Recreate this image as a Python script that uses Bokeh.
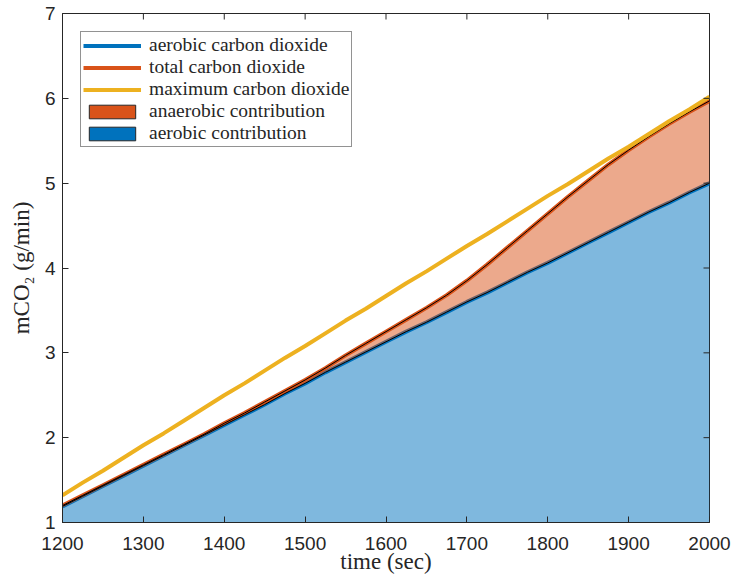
import math
from bokeh.plotting import figure
from bokeh.models import (ColumnDataSource, Legend, LegendItem, FixedTicker, Range1d)
from bokeh.embed import file_html
from bokeh.resources import INLINE

# ---- data ----
time = [1200, 1225, 1250, 1275, 1300, 1325, 1350, 1375, 1400, 1425, 1450,
        1475, 1500, 1525, 1550, 1575, 1600, 1625, 1650, 1675, 1700, 1725,
        1750, 1775, 1800, 1825, 1850, 1875, 1900, 1925, 1950, 1975, 2000]
aerobic = [1.19, 1.31, 1.43, 1.55, 1.67, 1.79, 1.91, 2.03, 2.15, 2.27, 2.39,
           2.52, 2.64, 2.77, 2.89, 3.01, 3.13, 3.25, 3.36, 3.48, 3.60, 3.71,
           3.83, 3.95, 4.06, 4.18, 4.30, 4.42, 4.54, 4.66, 4.77, 4.89, 5.00]
total = [1.20, 1.32, 1.44, 1.56, 1.68, 1.80, 1.92, 2.04, 2.17, 2.29, 2.42,
         2.55, 2.68, 2.82, 2.97, 3.11, 3.25, 3.39, 3.53, 3.68, 3.85, 4.04,
         4.24, 4.44, 4.64, 4.84, 5.03, 5.22, 5.39, 5.55, 5.70, 5.84, 5.97]
maximum = [1.32, 1.47, 1.61, 1.76, 1.91, 2.05, 2.20, 2.35, 2.50, 2.64, 2.79,
           2.94, 3.08, 3.23, 3.38, 3.52, 3.67, 3.82, 3.96, 4.11, 4.26, 4.40,
           4.55, 4.70, 4.85, 4.99, 5.14, 5.29, 5.43, 5.58, 5.73, 5.87, 6.02]
x_ticks = [1200, 1300, 1400, 1500, 1600, 1700, 1800, 1900, 2000]
y_ticks = [1, 2, 3, 4, 5, 6, 7]
x_range = (1200, 2000)
y_range = (1, 7)

BLUE = "#0072BD"
ORANGE = "#D95319"
YELLOW = "#EDB120"
AX = "#262626"

src = ColumnDataSource(dict(t=time, aer=aerobic, tot=total, mx=maximum))

p = figure(width=733, height=583, output_backend="svg", toolbar_location=None,
           x_range=Range1d(*x_range), y_range=Range1d(*y_range),
           min_border_left=62, min_border_right=24, min_border_top=13,
           min_border_bottom=61)
p.xgrid.visible = False
p.ygrid.visible = False
p.outline_line_color = AX
p.outline_line_width = 1
p.background_fill_color = "white"
p.border_fill_color = "white"

# lines first
l_aer = p.line("t", "aer", source=src, line_color=BLUE, line_width=4,
               line_join="round")
l_tot = p.line("t", "tot", source=src, line_color=ORANGE, line_width=4,
               line_join="round")

# areas (semi transparent) with black edges
p.varea(x="t", y1=0, y2="aer", source=src, fill_color=BLUE, fill_alpha=0.5)
p.varea(x="t", y1="aer", y2="tot", source=src, fill_color=ORANGE, fill_alpha=0.5)
p.line("t", "aer", source=src, line_color="black", line_width=1, line_join="round")
p.line("t", "tot", source=src, line_color="black", line_width=1, line_join="round")

l_max = p.line("t", "mx", source=src, line_color=YELLOW, line_width=4,
               line_join="round")

# legend-only patches (opaque, as in the reference legend); hidden in the plot
q_ana = p.quad(left="t", right="t", bottom="aer", top="tot", source=src,
               fill_color=ORANGE, line_color=AX, line_width=1, visible=False)
q_aer = p.quad(left="t", right="t", bottom=0, top="aer", source=src,
               fill_color=BLUE, line_color=AX, line_width=1, visible=False)

# inward box ticks on the top and right edges
p.scatter(x=x_ticks, y=y_range[1], marker="dash", size=12, angle=math.pi / 2,
          line_color=AX, line_width=1)
p.scatter(x=x_range[1], y=y_ticks, marker="dash", size=12,
          line_color=AX, line_width=1)

legend = Legend(items=[
    LegendItem(label="aerobic carbon dioxide", renderers=[l_aer]),
    LegendItem(label="total carbon dioxide", renderers=[l_tot]),
    LegendItem(label="maximum carbon dioxide", renderers=[l_max]),
    LegendItem(label="anaerobic contribution", renderers=[q_ana]),
    LegendItem(label="aerobic contribution", renderers=[q_aer]),
], location="top_left")
legend.margin = 18
legend.padding = 2
legend.spacing = 0
legend.glyph_width = 58
legend.glyph_height = 17
legend.label_height = 17
legend.label_standoff = 8
legend.label_text_font = "Liberation Serif"
legend.label_text_font_size = "19.5px"
legend.label_text_color = AX
legend.border_line_color = AX
legend.border_line_width = 1
legend.background_fill_alpha = 1
legend.inactive_fill_alpha = 0
p.add_layout(legend)

# axes styling
for ax in (p.xaxis[0], p.yaxis[0]):
    ax.major_tick_in = 6
    ax.major_tick_out = 0
    ax.minor_tick_line_color = None
    ax.axis_line_color = AX
    ax.major_tick_line_color = AX
    ax.major_label_text_font = "Liberation Sans"
    ax.major_label_text_font_size = "19px"
    ax.major_label_text_color = AX
    ax.axis_label_text_font = "Liberation Serif"
    ax.axis_label_text_font_size = "23px"
    ax.axis_label_text_font_style = "normal"
    ax.axis_label_text_color = AX

p.xaxis.ticker = FixedTicker(ticks=x_ticks)
p.yaxis.ticker = FixedTicker(ticks=y_ticks)
p.xaxis.axis_label = "time (sec)"
p.yaxis.axis_label = "mCO\u2082 (g/min)"
p.xaxis.major_label_standoff = 14
p.xaxis.axis_label_standoff = -4
p.yaxis.major_label_standoff = 7
p.yaxis.axis_label_standoff = 8

open("out.html", "w").write(file_html(p, INLINE))
